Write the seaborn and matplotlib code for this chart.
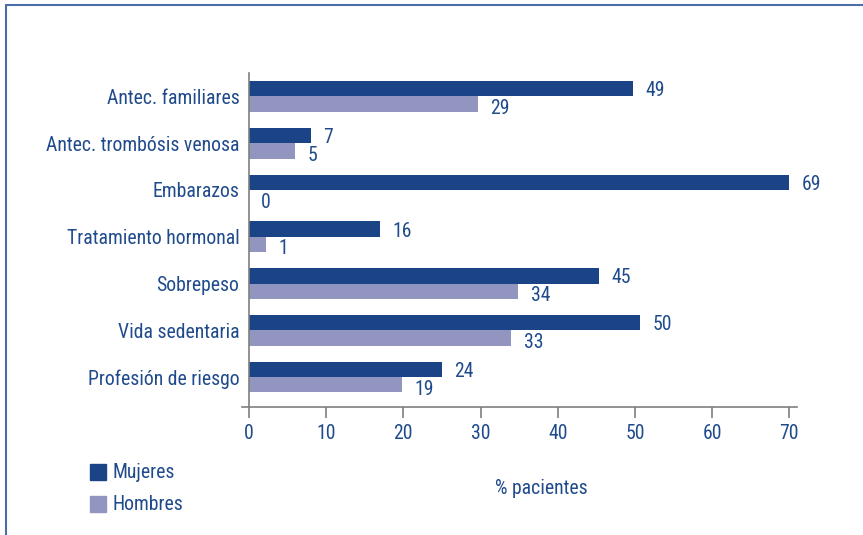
import pandas as pd
import numpy as np
import matplotlib.pyplot as plt
from matplotlib import font_manager
from matplotlib.lines import Line2D
from matplotlib.patches import Rectangle
import seaborn as sns

categories = ['Antec. familiares', 'Antec. trombósis venosa', 'Embarazos',
              'Tratamiento hormonal', 'Sobrepeso', 'Vida sedentaria',
              'Profesión de riesgo']
# bar lengths as drawn in the picture, and the value labels printed next to them
mujeres = [49.8, 8.0, 70.0, 17.0, 45.4, 50.7, 25.0]
hombres = [29.7, 6.0, 0.0, 2.2, 34.9, 34.0, 19.8]
mujeres_lbl = ['49', '7', '69', '16', '45', '50', '24']
hombres_lbl = ['29', '5', '0', '1', '34', '33', '19']
xticks = [0, 10, 20, 30, 40, 50, 60, 70]

sns.set_style('white')
names = set(f.name for f in font_manager.fontManager.ttflist)
fam = 'DejaVu Sans'
for cand in ['Liberation Sans Narrow', 'Roboto Condensed', 'Liberation Sans']:
    if cand in names:
        fam = cand
        break
plt.rcParams['font.family'] = [fam, 'DejaVu Sans']
fs = 14.2

txt = '#1f4a8c'
c_m = '#1a4485'
c_h = '#9195c0'
grey = '#7f7f7f'

df = pd.DataFrame({
    'cat': categories * 2,
    'val': mujeres + hombres,
    'sexo': ['Mujeres'] * 7 + ['Hombres'] * 7,
})

fig = plt.figure(figsize=(8.63, 5.35), dpi=100)
ax = fig.add_axes([249 / 863, 128 / 535, 548 / 863, 334 / 535])
sns.barplot(data=df, y='cat', x='val', hue='sexo', orient='h',
            hue_order=['Mujeres', 'Hombres'], palette=[c_m, c_h],
            width=0.66, dodge=True, ax=ax, legend=False, saturation=1,
            linewidth=0)

ax.set_xlim(0, 71)
ax.set_ylim(6.64, -0.5)
ax.set_xticks(xticks)
ax.set_xlabel('')
ax.set_ylabel('')
for s in ['top', 'right']:
    ax.spines[s].set_visible(False)
for s in ['left', 'bottom']:
    ax.spines[s].set_color(grey)
    ax.spines[s].set_linewidth(1.2)
ax.spines['bottom'].set_bounds(-0.9, 71)
ax.tick_params(axis='x', bottom=True, direction='out', length=8, width=1.2,
               color=grey, labelsize=fs, labelcolor=txt, pad=4)
ax.tick_params(axis='y', left=False, length=0, labelsize=fs, labelcolor=txt, pad=7)

for i in range(len(categories)):
    ax.text(mujeres[i] + 1.6, i - 0.12, mujeres_lbl[i], va='center', ha='left',
            fontsize=fs, color=txt)
    ax.text(hombres[i] + 1.6, i + 0.26, hombres_lbl[i], va='center', ha='left',
            fontsize=fs, color=txt)

# legend drawn by hand, below the category labels
fig.patches.append(Rectangle((90 / 863, 1 - 480 / 535), 16 / 863, 16 / 535,
                             transform=fig.transFigure, color=c_m))
fig.patches.append(Rectangle((90 / 863, 1 - 512 / 535), 16 / 863, 16 / 535,
                             transform=fig.transFigure, color=c_h))
fig.text(113 / 863, 1 - 472 / 535, 'Mujeres', va='center', fontsize=fs, color=txt)
fig.text(113 / 863, 1 - 504 / 535, 'Hombres', va='center', fontsize=fs, color=txt)
fig.text(541 / 863, 1 - 488 / 535, '% pacientes', ha='center', va='center',
         fontsize=fs, color=txt)

# frame lines at top and left
fig.add_artist(Line2D([6 / 863, 1], [1 - 5 / 535, 1 - 5 / 535],
                      transform=fig.transFigure, color='#4a6ea8', lw=1.5))
fig.add_artist(Line2D([6 / 863, 6 / 863], [0, 1 - 5 / 535],
                      transform=fig.transFigure, color='#4a6ea8', lw=1.5))

fig.savefig('out.png', dpi=100)
